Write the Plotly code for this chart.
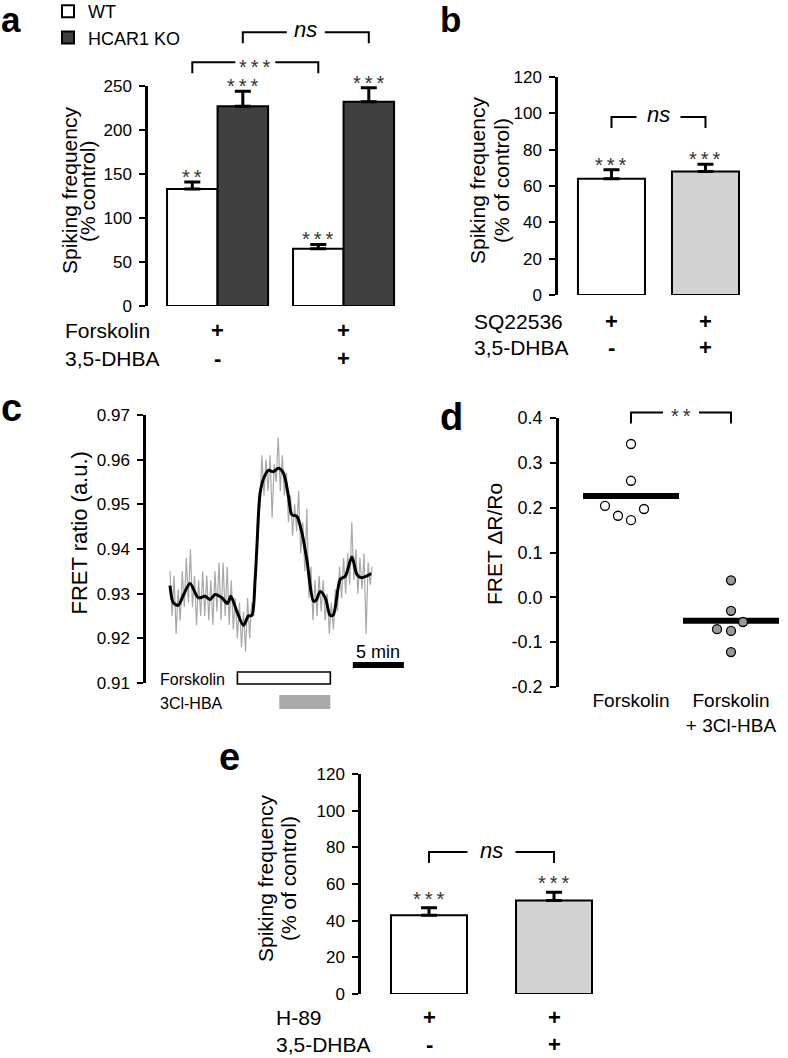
import numpy as np
import plotly.graph_objects as go

W, H = 788, 1058
FONT = "Liberation Sans, Arial, Helvetica, sans-serif"

# ---------------- Panel a : spiking frequency, WT vs HCAR1 KO ----------------
a_conditions = ["Forskolin", "Forskolin + 3,5-DHBA"]
a_wt = [133, 65]
a_wt_err = [8, 5]
a_ko = [227, 232]
a_ko_err = [17, 16]
a_wt_sig = ["**", "***"]
a_ko_sig = ["***", "***"]
a_yticks = [0, 50, 100, 150, 200, 250]
a_row_names = ["Forskolin", "3,5-DHBA"]
a_row_marks = [["+", "+"], ["-", "+"]]
a_bracket_wt = (277, "***")   # WT Forskolin vs WT Forskolin+DHBA
a_bracket_ko = (311, "ns")    # KO Forskolin vs KO Forskolin+DHBA

# ---------------- Panel b : SQ22536 ----------------
b_conditions = ["SQ22536", "SQ22536 + 3,5-DHBA"]
b_vals = [64, 68]
b_err = [5, 4]
b_sig = ["***", "***"]
b_yticks = [0, 20, 40, 60, 80, 100, 120]
b_row_names = ["SQ22536", "3,5-DHBA"]
b_row_marks = [["+", "+"], ["-", "+"]]
b_bracket = (98, "ns")

# ---------------- Panel c : FRET trace ----------------
c_raw = [0.935, 0.925, 0.934, 0.921, 0.931, 0.924, 0.935, 0.927, 0.938, 0.928,
         0.940, 0.927, 0.934, 0.923, 0.933, 0.925, 0.935, 0.925, 0.934, 0.924,
         0.933, 0.923, 0.935, 0.926, 0.937, 0.924, 0.937, 0.925, 0.936, 0.923,
         0.933, 0.922, 0.929, 0.920, 0.928, 0.918, 0.926, 0.917, 0.929, 0.920,
         0.928, 0.925, 0.936, 0.942, 0.950, 0.961, 0.952, 0.960, 0.953, 0.961,
         0.947, 0.959, 0.955, 0.965, 0.953, 0.961, 0.952, 0.957, 0.946, 0.952,
         0.943, 0.950, 0.944, 0.953, 0.939, 0.946, 0.935, 0.949, 0.929, 0.936,
         0.924, 0.933, 0.925, 0.934, 0.926, 0.933, 0.924, 0.930, 0.921, 0.928,
         0.922, 0.931, 0.926, 0.936, 0.929, 0.938, 0.930, 0.939, 0.932, 0.946,
         0.933, 0.940, 0.930, 0.938, 0.931, 0.939, 0.921, 0.937, 0.932, 0.936]
c_raw_time = np.arange(len(c_raw)) * 0.2   # minutes, one frame every 12 s
c_smooth_time = [0.0, 0.32, 0.81, 1.37, 1.96, 2.77, 3.43, 3.92, 4.41, 5.07, 5.62, 5.95,
                 6.54, 7.19, 7.68, 8.01, 8.33, 8.5, 8.82, 9.2, 9.64, 10.13, 10.62, 11.11,
                 11.6, 11.93, 12.42, 12.91, 13.4, 14.05, 14.3, 14.71, 15.2, 15.69, 16.0,
                 16.67, 17.16, 17.81, 18.3, 18.7, 19.12, 19.7]
c_smooth = [0.9318, 0.9280, 0.9274, 0.9300, 0.9323, 0.9291, 0.9294, 0.9287, 0.9298, 0.9291,
            0.9278, 0.9294, 0.9261, 0.9229, 0.9250, 0.9251, 0.9330, 0.9400, 0.9525, 0.9560,
            0.9576, 0.9573, 0.9581, 0.9570, 0.9518, 0.9477, 0.9473, 0.9437, 0.9376, 0.9283,
            0.9285, 0.9305, 0.9291, 0.9251, 0.9253, 0.9332, 0.9339, 0.9382, 0.9343, 0.9336,
            0.9338, 0.9345]
c_yticks = [0.91, 0.92, 0.93, 0.94, 0.95, 0.96, 0.97]
c_forskolin = (6.6, 15.7)     # application window, min
c_hba = (10.7, 15.7)          # application window, min
c_scalebar = (17.9, 5)        # start, length (min)

# ---------------- Panel d : FRET dR/Ro ----------------
d_groups = ["Forskolin", "Forskolin<br>+ 3Cl-HBA"]
d_forsk = [0.342, 0.260, 0.204, 0.182, 0.172, 0.197]
d_forsk_jitter = [0, 0, -0.26, -0.13, 0, 0.13]
d_hba = [0.038, -0.030, -0.055, -0.071, -0.075, -0.122]
d_hba_jitter = [0, 0, 0.12, -0.14, 0, 0]
d_yticks = [-0.2, -0.1, 0.0, 0.1, 0.2, 0.3, 0.4]
d_bracket = (0.412, "**")

# ---------------- Panel e : H-89 ----------------
e_conditions = ["H-89", "H-89 + 3,5-DHBA"]
e_vals = [43, 51]
e_err = [4, 4.5]
e_sig = ["***", "***"]
e_yticks = [0, 20, 40, 60, 80, 100, 120]
e_row_names = ["H-89", "3,5-DHBA"]
e_row_marks = [["+", "+"], ["-", "+"]]
e_bracket = (77.4, "ns")

# ---------------- layout geometry (pixels) ----------------
def X(px):
    return px / W


def Y(py):
    return 1 - py / H


GEOM = {
    "a": dict(xa="x", ya="y", px=(148, 400), py=(306, 86), xr=(-0.552, 1.448), yr=(0, 250)),
    "b": dict(xa="x2", ya="y2", px=(558, 760), py=(295, 77), xr=(-0.569, 1.58), yr=(0, 120)),
    "c": dict(xa="x3", ya="y3", px=(146, 410), py=(683, 415), xr=(-2.35, 23.5), yr=(0.91, 0.97)),
    "d": dict(xa="x4", ya="y4", px=(559, 786), py=(687, 418), xr=(-0.72, 1.55), yr=(-0.2, 0.4)),
    "e": dict(xa="x5", ya="y5", px=(361, 600), py=(994, 774), xr=(-0.544, 1.368), yr=(0, 120)),
}


def ypaper(p, v):
    g = GEOM[p]
    b, t = g["py"]
    r0, r1 = g["yr"]
    return Y(b + (v - r0) / (r1 - r0) * (t - b))


def px_per_unit(p):
    g = GEOM[p]
    return (g["px"][1] - g["px"][0]) / (g["xr"][1] - g["xr"][0])


STAR_SEP = "\u2009"


def stars(s):
    return STAR_SEP.join(s)


fig = go.Figure()
shapes = []
annotations = []


def ann(text, x, y, xref="paper", yref="paper", size=21, **kw):
    font = dict(family=FONT, size=size, color=kw.pop("color", "black"))
    if "weight" in kw:
        font["weight"] = kw.pop("weight")
    if "style" in kw:
        font["style"] = kw.pop("style")
    annotations.append(dict(text=text, x=x, y=y, xref=xref, yref=yref, showarrow=False,
                            font=font, **kw))


def bracket(p, x0, x1, ytop, text, gap=20, drop=11, tshift=0, italic=False, size=20):
    g = GEOM[p]
    yt = ypaper(p, ytop)
    yb = yt - drop / H
    xm = (x0 + x1) / 2
    hg = gap / px_per_unit(p)
    for path in (f"M{x0},{yb} L{x0},{yt} L{xm - hg},{yt}",
                 f"M{xm + hg},{yt} L{x1},{yt} L{x1},{yb}"):
        shapes.append(dict(type="path", xref=g["xa"], yref="paper", path=path,
                           line=dict(color="black", width=2)))
    ann(text, xm, yt, xref=g["xa"], size=size, yanchor="middle", yshift=tshift,
        style="italic" if italic else "normal", color="black" if italic else "#333")


def err_y(arr):
    return dict(type="data", array=arr, arrayminus=[0] * len(arr), symmetric=False,
                color="black", thickness=3, width=8)


# ---- a traces
wa = 0.401
a_x = list(range(len(a_conditions)))
fig.add_trace(go.Bar(x=a_x, y=a_wt, width=wa, offset=-wa, name="WT",
                     marker=dict(color="white", line=dict(color="black", width=2)),
                     error_y=err_y(a_wt_err), xaxis="x", yaxis="y", showlegend=True))
fig.add_trace(go.Bar(x=a_x, y=a_ko, width=wa, offset=0, name="HCAR1 KO",
                     marker=dict(color="#404040", line=dict(color="black", width=2)),
                     error_y=err_y(a_ko_err), xaxis="x", yaxis="y", showlegend=True))
for i in a_x:
    ann(stars(a_wt_sig[i]), i - wa / 2, a_wt[i] + a_wt_err[i], "x", "y", size=20,
        color="#333", yanchor="middle", yshift=5)
    ann(stars(a_ko_sig[i]), i + wa / 2, a_ko[i] + a_ko_err[i], "x", "y", size=20,
        color="#333", yanchor="middle", yshift=5)
bracket("a", 0 - wa / 2, 1 - wa / 2, a_bracket_wt[0], stars(a_bracket_wt[1]), gap=20, tshift=-5)
bracket("a", 0 + wa / 2, 1 + wa / 2, a_bracket_ko[0], a_bracket_ko[1], gap=19, tshift=3,
        italic=True, size=22)

# ---- b traces
b_x = list(range(len(b_conditions)))
fig.add_trace(go.Bar(x=b_x, y=b_vals, width=0.713,
                     marker=dict(color=["white", "#d3d3d3"], line=dict(color="black", width=2)),
                     error_y=err_y(b_err), xaxis="x2", yaxis="y2", showlegend=False))
for i in b_x:
    ann(stars(b_sig[i]), i, b_vals[i] + b_err[i], "x2", "y2", size=20, color="#333",
        yanchor="middle", yshift=5)
bracket("b", 0, 1, b_bracket[0], b_bracket[1], gap=22, tshift=2, italic=True, size=22)

# ---- c traces
fig.add_trace(go.Scatter(x=c_raw_time, y=c_raw, mode="lines",
                         line=dict(color="#a8a8a8", width=1.2),
                         xaxis="x3", yaxis="y3", showlegend=False))
fig.add_trace(go.Scatter(x=c_smooth_time, y=c_smooth, mode="lines",
                         line=dict(color="black", width=3, shape="spline", smoothing=0.8),
                         xaxis="x3", yaxis="y3", showlegend=False))
shapes.append(dict(type="rect", xref="x3", yref="paper", x0=c_forskolin[0], x1=c_forskolin[1],
                   y0=Y(684), y1=Y(672), fillcolor="white", line=dict(color="black", width=1.6)))
shapes.append(dict(type="rect", xref="x3", yref="paper", x0=c_hba[0], x1=c_hba[1],
                   y0=Y(709), y1=Y(695), fillcolor="#aaaaaa", line=dict(width=0)))
shapes.append(dict(type="rect", xref="x3", yref="paper", x0=c_scalebar[0],
                   x1=c_scalebar[0] + c_scalebar[1], y0=Y(668), y1=Y(662),
                   fillcolor="black", line=dict(width=0)))
ann(f"{c_scalebar[1]} min", c_scalebar[0] + c_scalebar[1] / 2, Y(652), xref="x3", size=18,
    yanchor="middle")
ann("Forskolin", X(158), Y(679), size=16, xanchor="left", yanchor="middle")
ann("3Cl-HBA", X(158), Y(703), size=16, xanchor="left", yanchor="middle")

# ---- d traces
d_mean = [float(np.mean(d_forsk)), float(np.mean(d_hba))]
for gi, (vals, jit, fill) in enumerate([(d_forsk, d_forsk_jitter, "white"),
                                        (d_hba, d_hba_jitter, "#999999")]):
    fig.add_trace(go.Scatter(x=[gi - 0.48, gi + 0.48], y=[d_mean[gi]] * 2, mode="lines",
                             line=dict(color="black", width=6), xaxis="x4", yaxis="y4",
                             showlegend=False))
    fig.add_trace(go.Scatter(x=[gi + j for j in jit], y=vals, mode="markers",
                             marker=dict(size=9, color=fill, line=dict(color="black", width=1.3)),
                             xaxis="x4", yaxis="y4", showlegend=False))
bracket("d", 0, 1, d_bracket[0], stars(d_bracket[1]), gap=18, tshift=-3)

# ---- e traces
e_x = list(range(len(e_conditions)))
fig.add_trace(go.Bar(x=e_x, y=e_vals, width=0.608,
                     marker=dict(color=["white", "#d3d3d3"], line=dict(color="black", width=2)),
                     error_y=err_y(e_err), xaxis="x5", yaxis="y5", showlegend=False))
for i in e_x:
    ann(stars(e_sig[i]), i, e_vals[i] + e_err[i], "x5", "y5", size=20, color="#333",
        yanchor="middle", yshift=9)
bracket("e", 0, 1, e_bracket[0], e_bracket[1], gap=24, tshift=2, italic=True, size=22)

# ---- treatment rows under the bar charts
for names, marks, p, left, rows_y in [(a_row_names, a_row_marks, "a", 63, (330, 358)),
                                      (b_row_names, b_row_marks, "b", 472, (321, 347)),
                                      (e_row_names, e_row_marks, "e", 274, (1017, 1044))]:
    for r, (nm, mk) in enumerate(zip(names, marks)):
        ann(nm, X(left), Y(rows_y[r]), size=21, xanchor="left", yanchor="middle")
        for ci, m in enumerate(mk):
            ann(m, ci, Y(rows_y[r]), xref=GEOM[p]["xa"], size=22, weight="bold",
                yanchor="middle", borderpad=0)

# ---- y axis titles
for p, lines in [("a", [("Spiking frequency", 69), ("(% control)", 87)]),
                 ("b", [("Spiking frequency", 478), ("(% of control)", 502)]),
                 ("e", [("Spiking frequency", 265), ("(% of control)", 288)])]:
    g = GEOM[p]
    yc = (g["py"][0] + g["py"][1]) / 2
    for txt, xc in lines:
        ann(txt, X(xc), Y(yc - 5), size=21, textangle=-90, xanchor="center", yanchor="middle")
ann("FRET ratio (a.u.)", X(64), Y(533), size=22, textangle=-90)
ann("FRET \u0394R/Ro", X(494), Y(544), size=21, textangle=-90)

# ---- panel letters (x, y of the text centre in pixels, font size)
for letter, lx, ly, ls in [("a", 0, 20, 35), ("b", 439, 20, 35), ("c", 0, 408, 38),
                           ("d", 439, 417, 38), ("e", 218, 757, 38)]:
    ann(letter, X(lx), Y(ly), size=ls, weight="bold", xanchor="left", yanchor="middle",
        borderpad=0)

# ---- axes
layout_axes = {}
for idx, (p, ticks, fmt, tsize) in enumerate([("a", a_yticks, "{:d}", 17),
                                              ("b", b_yticks, "{:d}", 17),
                                              ("c", c_yticks, "{:.2f}", 17),
                                              ("d", d_yticks, "{:.1f}", 18),
                                              ("e", e_yticks, "{:d}", 17)]):
    g = GEOM[p]
    sfx = "" if idx == 0 else str(idx + 1)
    layout_axes["xaxis" + sfx] = dict(domain=[X(g["px"][0]), X(g["px"][1])], range=list(g["xr"]),
                                      anchor=g["ya"], visible=False, fixedrange=True,
                                      automargin=False)
    layout_axes["yaxis" + sfx] = dict(
        domain=[Y(g["py"][0]), Y(g["py"][1])], range=list(g["yr"]), anchor=g["xa"],
        showline=True, linecolor="black", linewidth=2.5, ticks="outside", ticklen=6,
        tickwidth=2, tickcolor="black", tickvals=ticks,
        ticktext=[fmt.format(t) for t in ticks], showgrid=False, zeroline=False,
        tickfont=dict(family=FONT, size=tsize, color="black"), ticklabelstandoff=4,
        fixedrange=True, automargin=False)

layout_axes["xaxis4"].update(visible=True, showline=False, showgrid=False, zeroline=False,
                             ticks="", tickvals=[0, 1], ticktext=d_groups,
                             tickfont=dict(family=FONT, size=19, color="black"))

fig.update_layout(
    template="none",
    width=W, height=H, margin=dict(l=0, r=0, t=0, b=0, pad=0, autoexpand=False),
    paper_bgcolor="white", plot_bgcolor="white", barmode="overlay",
    font=dict(family=FONT, color="black"),
    legend=dict(x=X(48), y=Y(-7), xanchor="left", yanchor="top", bgcolor="rgba(0,0,0,0)",
                font=dict(family=FONT, size=18, color="black"), tracegroupgap=0,
                borderwidth=0),
    shapes=shapes, annotations=annotations, **layout_axes)

fig.write_html("out.html", config={"displayModeBar": False},
               post_script="document.body.style.margin='0px';")
